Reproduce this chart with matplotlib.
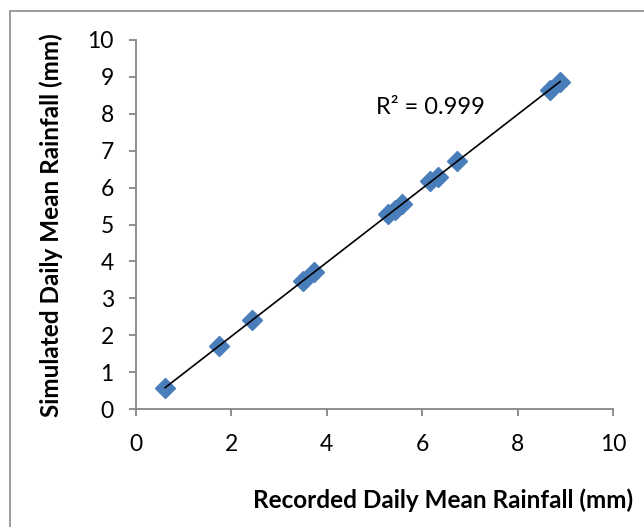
import numpy as np
import matplotlib
matplotlib.use("Agg")
import matplotlib.pyplot as plt
from matplotlib.patches import Rectangle

# Data
recorded = [0.61, 1.74, 2.43, 3.51, 3.74, 5.29, 5.42, 5.58, 6.17, 6.34, 6.73, 8.68, 8.89]
simulated = [0.57, 1.71, 2.41, 3.47, 3.71, 5.28, 5.40, 5.56, 6.17, 6.30, 6.71, 8.65, 8.87]
r2_label = "R² = 0.999"
xlabel = "Recorded Daily Mean Rainfall (mm)"
ylabel = "Simulated Daily Mean Rainfall (mm)"
ticks = [0, 2, 4, 6, 8, 10]
yticks = list(range(0, 11))

plt.rcParams['font.family'] = ['Lato', 'DejaVu Sans']

W, H = 644, 527
fig = plt.figure(figsize=(W / 100, H / 100), dpi=100)
fig.patch.set_facecolor('white')

# outer chart border (left and top visible)
fig.add_artist(Rectangle((10 / W, -0.05), 1.2, 1.05 - 10.5 / H, transform=fig.transFigure,
                         fill=False, edgecolor='#8a8a8a', linewidth=1.2))

ax = fig.add_axes([136 / W, 1 - 409 / H, (613 - 136) / W, (409 - 40) / H])
x = np.array(recorded)
y = np.array(simulated)
coef = np.polyfit(x, y, 1)
xl = np.array([x.min(), x.max()])
ax.plot(xl, np.polyval(coef, xl), color='black', lw=1.2, zorder=3)
ax.plot(x, y, linestyle='none', marker='D', ms=10, color='#4A7EBB', mec='#4A7EBB', zorder=2)

ax.set_xlim(0, 10)
ax.set_ylim(0, 10)
ax.set_xticks(ticks)
ax.set_yticks(yticks)
for s in ['top', 'right']:
    ax.spines[s].set_visible(False)
for s in ['left', 'bottom']:
    ax.spines[s].set_color('#868686')
    ax.spines[s].set_linewidth(1.3)
ax.tick_params(direction='out', length=5, width=1.3, color='#868686', labelsize=16.5,
               labelcolor='black')
ax.tick_params(axis='y', pad=11)
ax.tick_params(axis='x', pad=13)

ax.text(5.03, 8.16, r2_label, fontsize=17, ha='left', va='center')

fig.text(443 / W, 1 - 508 / H, xlabel, fontsize=17.5, fontweight='bold', ha='center',
         va='baseline')
fig.text(51 / W, 1 - 225 / H, ylabel, fontsize=17.5, fontweight='bold', ha='center',
         va='center', rotation=90)

fig.savefig('out.png', dpi=100)
